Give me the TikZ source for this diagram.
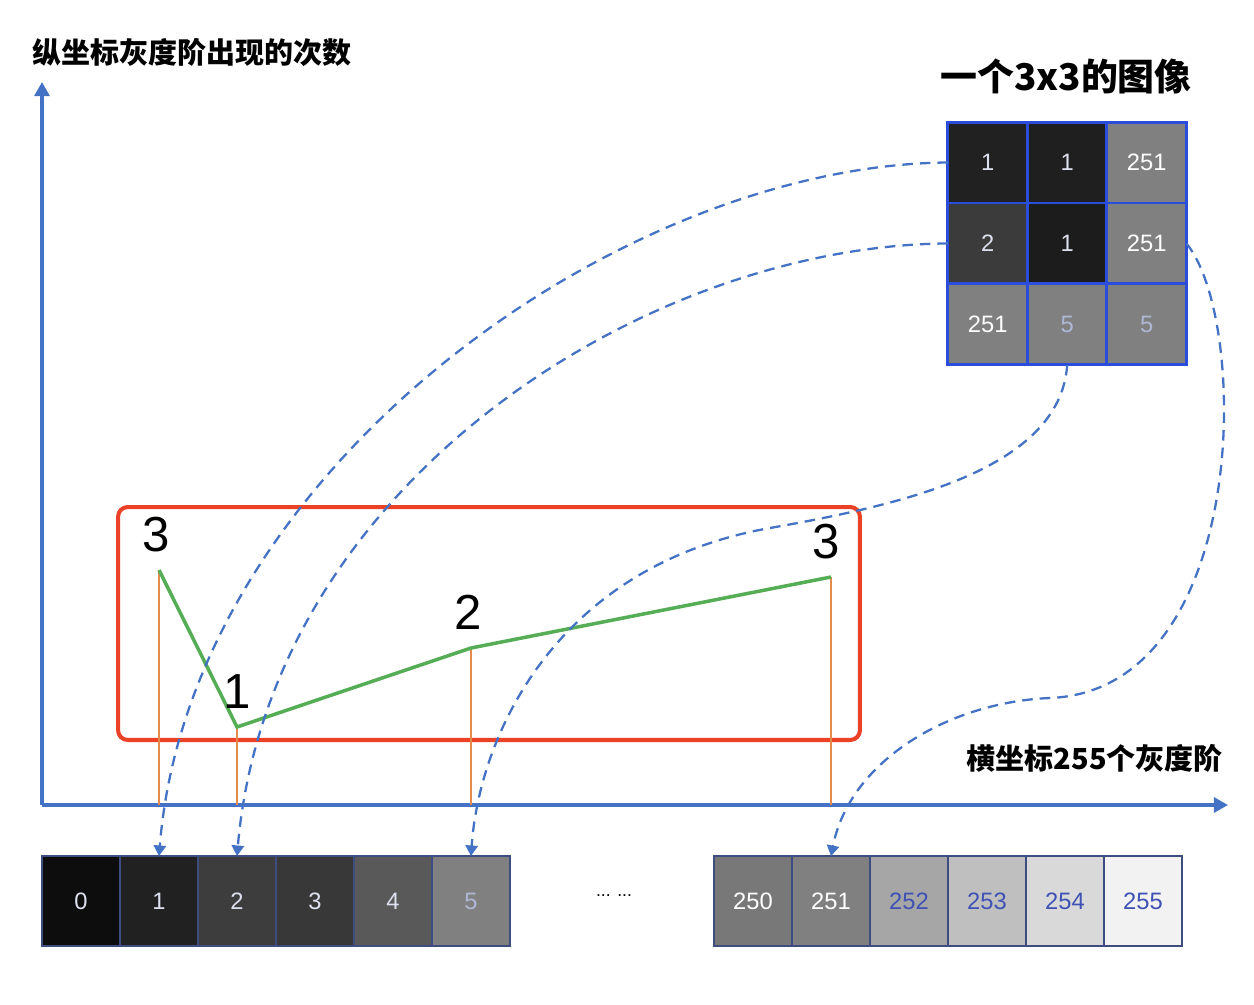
\documentclass[tikz,border=0pt]{standalone}
\usepackage{fontspec}
\setmainfont{Liberation Sans}
\newfontfamily\cjk{Noto Sans CJK SC}
\usetikzlibrary{arrows.meta,positioning}
\definecolor{axisblue}{HTML}{4472C4}
\definecolor{gridblue}{HTML}{2B4DDC}
\definecolor{stripblue}{HTML}{3E4C80}
\definecolor{boxred}{HTML}{EA4127}
\definecolor{curvegreen}{HTML}{55AD55}
\definecolor{stemorange}{HTML}{E38B4C}
\definecolor{numblue}{HTML}{3F51B5}
\definecolor{paletext}{HTML}{DDE0EE}
\definecolor{dimtext}{HTML}{AEB8D4}

\begin{document}
\begin{tikzpicture}[x=0.02cm, y=-0.02cm, font=\fontsize{13.5}{16}\selectfont, node distance=0pt,
  cell/.style={draw=gridblue, line width=1.7pt, outer sep=0pt, inner sep=0pt, minimum width=1.59cm, minimum height=1.62cm},
  bin/.style={draw=stripblue, line width=1.5pt, outer sep=0pt, inner sep=0pt, minimum width=1.56cm, minimum height=1.8cm},
  axis/.style={axisblue, line width=1.8pt, -{Triangle[width=8.5pt,length=8pt]}},
  link/.style={axisblue, line width=1.3pt, dash pattern=on 6pt off 4pt, -{Triangle[width=7pt,length=6pt]}},
  stem/.style={stemorange, line width=1.2pt},
  val/.style={font=\fontsize{28}{30}\selectfont},
  axislabel/.style={font=\cjk\bfseries\fontsize{16.5}{18}\selectfont}]
\useasboundingbox (0,0) rectangle (1254,1004);
\coordinate (o) at (42,805); \coordinate (yend) at (42,82); \coordinate (xend) at (1228,805);
\draw[axis] (o) -- (yend); \draw[axis] (o) -- (xend);
\node[axislabel, anchor=west] (ylab) at (26,52) {纵坐标灰度阶出现的次数};
\node[axislabel, anchor=east] (xlab) at (1229,758) {横坐标255个灰度阶};
\node[axislabel, font=\cjk\bfseries\fontsize{21}{24}\selectfont] (head) at (1066,76) {一个3x3的图像};
\node[draw=boxred, line width=2.3pt, rounded corners=5.5pt, minimum width=14.84cm, minimum height=4.66cm] (frame) at (489,623.5) {};
\coordinate (p1) at (159,570); \coordinate (p2) at (237,727); \coordinate (p3) at (471,648); \coordinate (p4) at (831,577);
\draw[stem] (p1) -- (p1 |- o); \draw[stem] (p2) -- (p2 |- o); \draw[stem] (p3) -- (p3 |- o); \draw[stem] (p4) -- (p4 |- o);
\draw[curvegreen, line width=2pt] (p1) -- (p2) -- (p3) -- (p4);
\node[val] (n1) at (156,535) {3};
\node[val] (n2) at (237,692) {1};
\node[val] (n3) at (468,612) {2};
\node[val] (n4) at (826,542) {3};
\node[cell, fill=black!87, text=paletext] (g11) at (987.7,162.5) {1};
\node[cell, fill=black!88, text=paletext, right=of g11] (g12) {1};
\node[cell, fill=black!50, text=white, right=of g12] (g13) {251};
\node[cell, fill=black!77, text=paletext, below=of g11] (g21) {2};
\node[cell, fill=black!89, text=paletext, right=of g21] (g22) {1};
\node[cell, fill=black!50, text=white, right=of g22] (g23) {251};
\node[cell, fill=black!50, text=white, below=of g21] (g31) {251};
\node[cell, fill=black!50, text=dimtext, right=of g31] (g32) {5};
\node[cell, fill=black!50, text=dimtext, right=of g32] (g33) {5};
\node[bin, fill=black!95, text=paletext] (b0) at (81,901) {0};
\node[bin, fill=black!87, text=paletext, right=of b0] (b1) {1};
\node[bin, fill=black!76, text=paletext, right=of b1] (b2) {2};
\node[bin, fill=black!78, text=paletext, right=of b2] (b3) {3};
\node[bin, fill=black!65, text=paletext, right=of b3] (b4) {4};
\node[bin, fill=black!50, text=dimtext, right=of b4] (b5) {5};
\node (gap) at (614,896) {\fontsize{10}{12}\selectfont ... ...};
\node[bin, fill=black!53, text=white] (r250) at (753,901) {250};
\node[bin, fill=black!50, text=white, right=of r250] (r251) {251};
\node[bin, fill=black!35, text=numblue, right=of r251] (r252) {252};
\node[bin, fill=black!25, text=numblue, right=of r252] (r253) {253};
\node[bin, fill=black!15, text=numblue, right=of r253] (r254) {254};
\node[bin, fill=black!5, text=numblue, right=of r254] (r255) {255};
\draw[link] (g11.west) .. controls (620,165) and (190,470) .. (b1.north);
\draw[link] (g21.west) .. controls (650,245) and (270,480) .. (b2.north);
\draw[link] (g32.south) .. controls (1060,470) and (900,505) .. (770,528) .. controls (560,565) and (480,730) .. (b5.north);
\draw[link] (g23.east) .. controls (1250,320) and (1250,690) .. (1050,698) .. controls (950,702) and (850,760) .. (r251.north);
\end{tikzpicture}
\end{document}
